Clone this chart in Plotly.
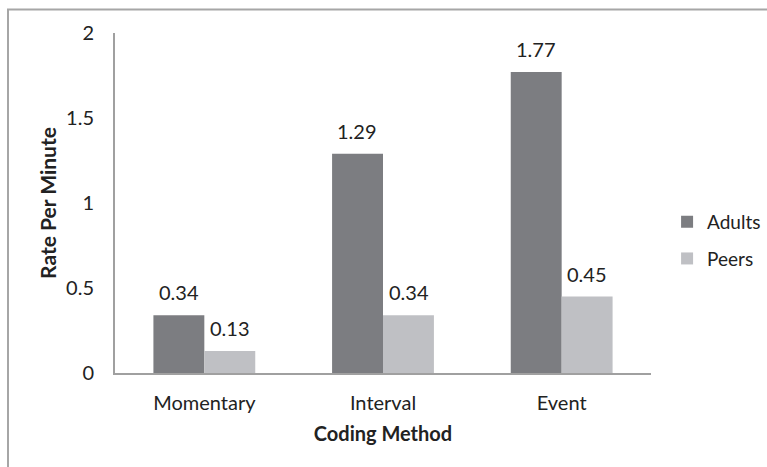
import plotly.graph_objects as go

categories = ["Momentary", "Interval", "Event"]
adults = [0.34, 1.29, 1.77]
peers = [0.13, 0.34, 0.45]
y_ticks = [0, 0.5, 1, 1.5, 2]
y_tick_text = ["0", "0.5", "1", "1.5", "2"]

FONT = "Lato"
W, H = 767, 467
L, R, T, B = 115, 116, 33, 94

fig = go.Figure()
fig.add_trace(go.Bar(name="Adults", x=categories, y=adults, marker_color="#7c7d81",
                     marker_line_width=0, legendgroup="a"))
fig.add_trace(go.Bar(name="Peers", x=categories, y=peers, marker_color="#bfc0c4",
                     marker_line_width=0, legendgroup="p"))

# value labels above each bar
offsets = {"Adults": -0.143, "Peers": 0.143}
for name, vals in (("Adults", adults), ("Peers", peers)):
    for i, v in enumerate(vals):
        fig.add_annotation(x=i + offsets[name], y=v, xref="x", yref="y",
                           text=f"{v:.2f}", showarrow=False, yanchor="bottom",
                           yshift=9, font=dict(family=FONT, size=20, color="#222222"))

# outer frame
pw, ph = W - L - R, H - T - B
fig.add_shape(type="rect", xref="paper", yref="paper",
              x0=(8 - L) / pw, x1=(W + 20 - L) / pw,
              y0=-(H + 20 - T - ph) / ph, y1=(H - 9.5 - B) / ph,
              line=dict(color="#a6a6a6", width=2), fillcolor="rgba(0,0,0,0)")

fig.update_layout(
    width=W, height=H,
    margin=dict(l=L, r=R, t=T, b=B, autoexpand=False),
    paper_bgcolor="white", plot_bgcolor="white",
    barmode="group", bargap=0.43, bargroupgap=0,
    font=dict(family=FONT, size=20, color="#222222"),
    showlegend=True,
    legend=dict(x=1.03, y=0.39, xanchor="left", yanchor="middle",
                font=dict(family=FONT, size=19, color="#222222"),
                traceorder="grouped", tracegroupgap=9,
                bgcolor="rgba(0,0,0,0)"),
    xaxis=dict(showline=True, linecolor="#a0a0a0", linewidth=2, showgrid=False,
               ticks="", ticklabelstandoff=11,
               title=dict(text="<b>Coding Method</b>", standoff=14,
                          font=dict(family=FONT, size=20, color="#222222"))),
    yaxis=dict(range=[0, 2], tickvals=y_ticks, ticktext=y_tick_text,
               showline=True, linecolor="#a0a0a0", linewidth=2, showgrid=False,
               zeroline=False, ticks="", ticklabelstandoff=15,
               title=dict(text="<b>Rate Per Minute</b>", standoff=4,
                          font=dict(family=FONT, size=21, color="#222222"))),
)

fig.write_html("out.html")
